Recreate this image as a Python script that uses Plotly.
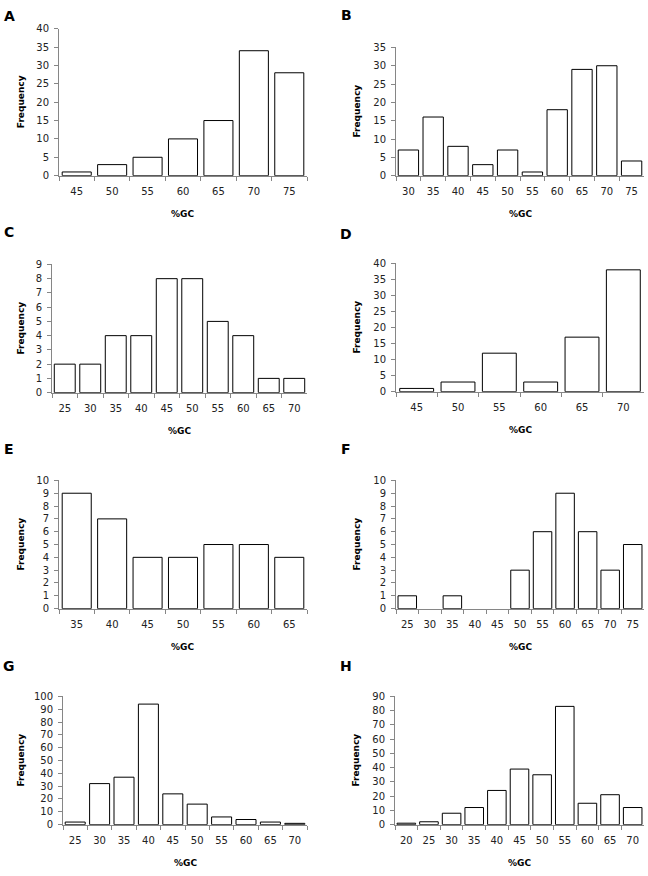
import plotly.graph_objects as go

W, H = 648, 876

# ---- data ----
labels_A = ["45", "50", "55", "60", "65", "70", "75"]
freq_A = [1, 3, 5, 10, 15, 34, 28]
labels_B = ["30", "35", "40", "45", "50", "55", "60", "65", "70", "75"]
freq_B = [7, 16, 8, 3, 7, 1, 18, 29, 30, 4]
labels_C = ["25", "30", "35", "40", "45", "50", "55", "60", "65", "70"]
freq_C = [2, 2, 4, 4, 8, 8, 5, 4, 1, 1]
labels_D = ["45", "50", "55", "60", "65", "70"]
freq_D = [1, 3, 12, 3, 17, 38]
labels_E = ["35", "40", "45", "50", "55", "60", "65"]
freq_E = [9, 7, 4, 4, 5, 5, 4]
labels_F = ["25", "30", "35", "40", "45", "50", "55", "60", "65", "70", "75"]
freq_F = [1, 0, 1, 0, 0, 3, 6, 9, 6, 3, 5]
labels_G = ["25", "30", "35", "40", "45", "50", "55", "60", "65", "70"]
freq_G = [2, 32, 37, 94, 24, 16, 6, 4, 2, 1]
labels_H = ["20", "25", "30", "35", "40", "45", "50", "55", "60", "65", "70"]
freq_H = [1, 2, 8, 12, 24, 39, 35, 83, 15, 21, 12]

panels = [
    ("A", labels_A, freq_A, 40, 5),
    ("B", labels_B, freq_B, 35, 5),
    ("C", labels_C, freq_C, 9, 1),
    ("D", labels_D, freq_D, 40, 5),
    ("E", labels_E, freq_E, 10, 1),
    ("F", labels_F, freq_F, 10, 1),
    ("G", labels_G, freq_G, 100, 10),
    ("H", labels_H, freq_H, 90, 10),
]

# plot areas in pixels: (x0, x1, ytop, ybottom)
boxes = [
    (59, 307, 23, 172),
    (396, 644, 42, 172),
    (52, 307, 262, 392),
    (396, 644, 261, 391),
    (59, 307, 481, 611),
    (396, 644, 481, 611),
    (63, 307, 700, 830),
    (395, 644, 700, 830),
]
letter_pos = [(9, 10), (346, 9), (9, 229), (346, 231), (9, 449), (346, 449), (9, 669), (346, 669)]
ylabel_x = [21, 357, 21, 357, 21, 357, 21, 356]

FONT = "DejaVu Sans"
AXC = "#868686"

fig = go.Figure()
layout = dict(
    width=W, height=H, margin=dict(l=0, r=0, t=0, b=0),
    paper_bgcolor="white", plot_bgcolor="white", showlegend=False,
    font=dict(family=FONT, size=10, color="#222222"),
    bargap=0.18,
)
annotations = []
for i, ((letter, labs, vals, ymax, dt), (x0, x1, yt, yb), (lx, ly), ylx) in enumerate(
        zip(panels, boxes, letter_pos, ylabel_x)):
    n = "" if i == 0 else str(i + 1)
    fig.add_trace(go.Bar(
        x=labs, y=[v if v > 0 else None for v in vals], xaxis="x" + n, yaxis="y" + n,
        marker=dict(color="white", line=dict(color="black", width=1)),
        hoverinfo="x+y",
    ))
    layout["xaxis" + n] = dict(
        domain=[x0 / W, x1 / W], anchor="y" + n, type="category",
        showline=True, linecolor=AXC, linewidth=1,
        ticks="outside", tickson="boundaries", ticklen=4, tickcolor=AXC,
        showgrid=False, zeroline=False, range=[-0.5, len(labs) - 0.5],
        tickfont=dict(size=10, family=FONT, color="#222222"),
        ticklabelstandoff=6,
    )
    layout["yaxis" + n] = dict(
        domain=[1 - yb / H, 1 - yt / H], anchor="x" + n,
        range=[0, ymax], dtick=dt, tick0=0,
        showline=True, linecolor=AXC, linewidth=1,
        ticks="outside", ticklen=4, tickcolor=AXC,
        showgrid=False, zeroline=False,
        tickfont=dict(size=10, family=FONT, color="#222222"),
        ticklabelstandoff=3,
    )
    annotations.append(dict(
        text="<b>%s</b>" % letter, x=lx / W, y=1 - ly / H, xref="paper", yref="paper",
        showarrow=False, xanchor="center", yanchor="middle",
        font=dict(size=14, family=FONT, color="black"),
    ))
    annotations.append(dict(
        text="<b>Frequency</b>", x=ylx / W, y=1 - (yt + yb) / 2 / H, xref="paper", yref="paper",
        showarrow=False, textangle=-90, xanchor="center", yanchor="middle",
        font=dict(size=9, family=FONT, color="black"),
    ))
    annotations.append(dict(
        text="<b>%GC</b>", x=(x0 + x1) / 2 / W, y=1 - (yb + 38.5) / H, xref="paper", yref="paper",
        showarrow=False, xanchor="center", yanchor="middle",
        font=dict(size=9, family=FONT, color="black"),
    ))

layout["annotations"] = annotations
fig.update_layout(**layout)
fig.write_html(
    "out.html",
    config={"displayModeBar": False, "responsive": False},
    post_script="document.body.style.margin='0px';document.body.style.padding='0px';",
)
